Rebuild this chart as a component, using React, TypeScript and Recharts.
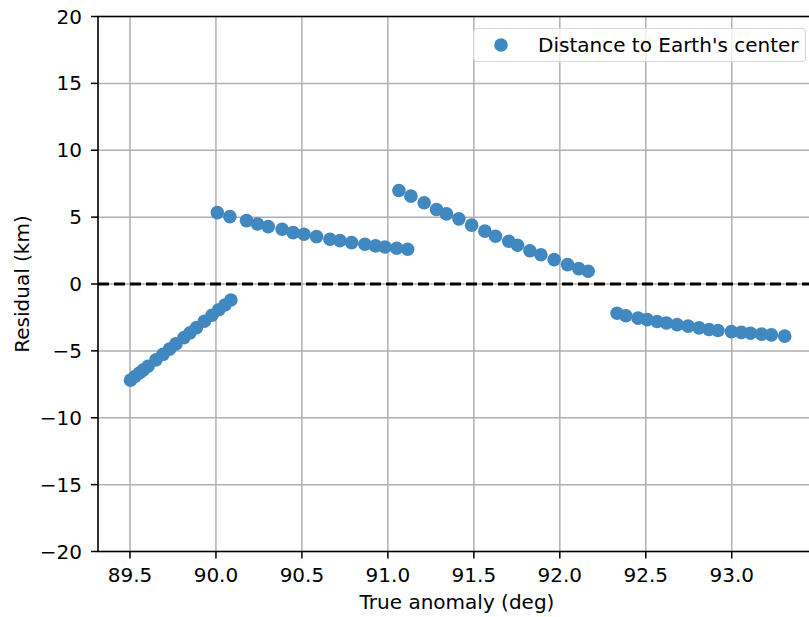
import React from 'react'
import {
  ScatterChart,
  Scatter,
  XAxis,
  YAxis,
  CartesianGrid,
  ReferenceLine,
  Label
} from 'recharts'

// true anomaly (deg) and residual (km), one pair of arrays per pass
const arc1X = [89.503, 89.529, 89.555, 89.578, 89.605, 89.651, 89.692, 89.730, 89.767, 89.814, 89.849, 89.887, 89.933, 89.977, 90.017, 90.052, 90.087]
const arc1Y = [-7.19, -6.92, -6.65, -6.42, -6.15, -5.67, -5.26, -4.87, -4.48, -4.01, -3.65, -3.26, -2.79, -2.34, -1.92, -1.57, -1.20]

const arc2X = [90.008, 90.081, 90.178, 90.242, 90.304, 90.385, 90.449, 90.512, 90.585, 90.663, 90.721, 90.789, 90.866, 90.928, 90.983, 91.051, 91.115]
const arc2Y = [5.34, 5.04, 4.74, 4.49, 4.29, 4.09, 3.84, 3.72, 3.54, 3.35, 3.24, 3.09, 2.97, 2.85, 2.77, 2.67, 2.60]

const arc3X = [91.064, 91.134, 91.211, 91.283, 91.341, 91.413, 91.487, 91.564, 91.626, 91.703, 91.754, 91.826, 91.890, 91.967, 92.045, 92.110, 92.165]
const arc3Y = [6.99, 6.57, 6.07, 5.57, 5.24, 4.87, 4.40, 3.95, 3.57, 3.20, 2.90, 2.49, 2.19, 1.82, 1.45, 1.15, 0.95]

const arc4X = [92.333, 92.384, 92.455, 92.508, 92.566, 92.620, 92.682, 92.746, 92.810, 92.868, 92.920, 92.998, 93.056, 93.109, 93.173, 93.231, 93.308]
const arc4Y = [-2.19, -2.37, -2.55, -2.66, -2.80, -2.92, -3.04, -3.15, -3.28, -3.40, -3.48, -3.56, -3.62, -3.68, -3.75, -3.80, -3.90]

const xTicks = [89.5, 90.0, 90.5, 91.0, 91.5, 92.0, 92.5, 93.0]
const yTicks = [-20, -15, -10, -5, 0, 5, 10, 15, 20]

const seriesName = "Distance to Earth's center"
const dotColor = '#4288c0'
const font = "'DejaVu Sans', sans-serif"
const fs = 20

const points = [
  [arc1X, arc1Y],
  [arc2X, arc2Y],
  [arc3X, arc3Y],
  [arc4X, arc4Y]
].flatMap(([xs, ys]) => xs.map((x, i) => ({ x, y: ys[i] })))

const tickStyle = { fontSize: fs, fill: '#000', fontFamily: font }
const fmtY = (v: number) => (v < 0 ? '\u2212' + Math.abs(v) : String(v))

function Dot(props: any) {
  return <circle cx={props.cx} cy={props.cy} r={6.8} fill={dotColor} />
}

export default function App() {
  return (
    <div style={{ position: 'absolute', left: 0, top: 0, width: 809, height: 617, overflow: 'hidden', background: '#fff', fontFamily: font }}>
      <ScatterChart width={830} height={617} margin={{ top: 16.5, right: 14, bottom: 0, left: 0 }}>
        <CartesianGrid stroke="#b0b0b0" strokeWidth={1.5} />
        <XAxis
          type="number"
          dataKey="x"
          domain={[89.314, 93.49]}
          allowDataOverflow
          ticks={xTicks}
          tickFormatter={(v: number) => v.toFixed(1)}
          height={65.5}
          tick={tickStyle}
          tickSize={7}
          tickMargin={9}
          axisLine={{ stroke: '#000', strokeWidth: 1.5 }}
          tickLine={{ stroke: '#000', strokeWidth: 1.5 }}
        >
          <Label
            content={(p: any) => (
              <text x={p.viewBox.x + p.viewBox.width / 2} y={609} textAnchor="middle" fontSize={fs} fontFamily={font} fill="#000">
                True anomaly (deg)
              </text>
            )}
          />
        </XAxis>
        <YAxis
          type="number"
          dataKey="y"
          domain={[-20, 20]}
          allowDataOverflow
          ticks={yTicks}
          tickFormatter={fmtY}
          width={98}
          tick={tickStyle}
          tickSize={7}
          tickMargin={9}
          axisLine={{ stroke: '#000', strokeWidth: 1.5 }}
          tickLine={{ stroke: '#000', strokeWidth: 1.5 }}
        >
          <Label
            content={(p: any) => {
              const cy = p.viewBox.y + p.viewBox.height / 2
              return (
                <text x={22} y={cy} transform={`rotate(-90 22 ${cy})`} textAnchor="middle" dominantBaseline="central" fontSize={fs} fontFamily={font} fill="#000">
                  Residual (km)
                </text>
              )
            }}
          />
        </YAxis>
        <ReferenceLine y={20} stroke="#000" strokeWidth={1.5} />
        <ReferenceLine y={0} stroke="#000" strokeWidth={3} strokeDasharray="11 5" />
        <Scatter name={seriesName} data={points} shape={Dot} isAnimationActive={false} />
      </ScatterChart>
      <div
        style={{
          position: 'absolute',
          left: 473,
          top: 28,
          width: 333,
          height: 34,
          boxSizing: 'border-box',
          border: '1px solid #d6d6d6',
          borderRadius: 4,
          background: 'rgba(255,255,255,0.8)',
          display: 'flex',
          alignItems: 'center'
        }}
      >
        <svg width={14} height={14} style={{ marginLeft: 20 }}>
          <circle cx={7} cy={7} r={6.8} fill={dotColor} />
        </svg>
        <span style={{ marginLeft: 30, fontSize: fs, color: '#000', lineHeight: '22px' }}>{seriesName}</span>
      </div>
    </div>
  )
}
